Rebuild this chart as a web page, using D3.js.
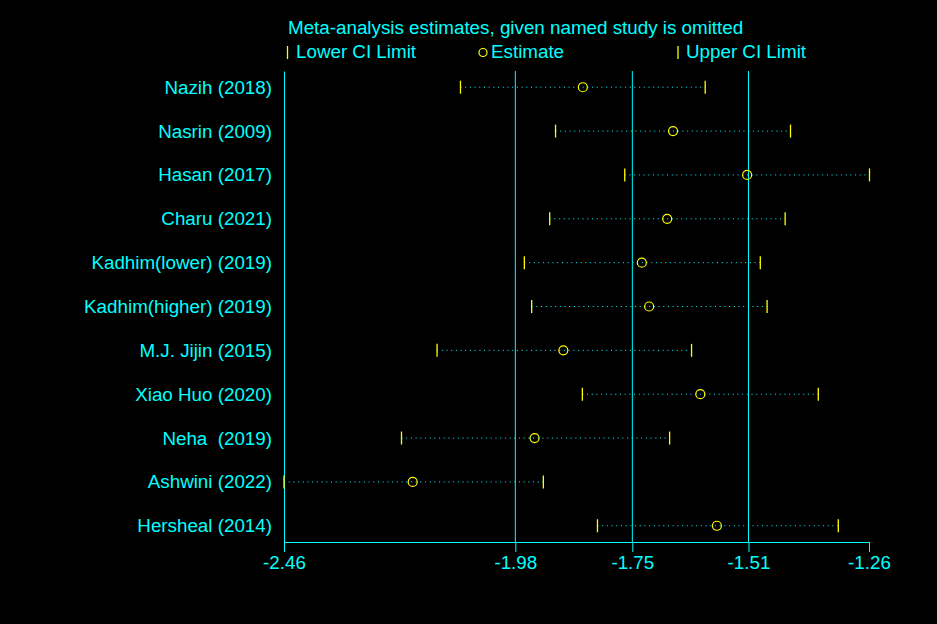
<!DOCTYPE html>
<html>
<head>
<meta charset="utf-8">
<script src="https://cdn.jsdelivr.net/npm/d3@7"></script>
<style>
  body { margin: 0; background: #000; }
  text { font-family: Arial, "Liberation Sans", sans-serif; fill: #00ffff; }
</style>
</head>
<body>
<script>
// study omitted, and the pooled estimate with its CI when that study is left out
var studies = ["Nazih (2018)", "Nasrin (2009)", "Hasan (2017)", "Charu (2021)", "Kadhim(lower) (2019)",
    "Kadhim(higher) (2019)", "M.J. Jijin (2015)", "Xiao Huo (2020)", "Neha  (2019)", "Ashwini (2022)", "Hersheal (2014)"]
var lower = [-2.098, -1.903, -1.761, -1.915, -1.967, -1.952, -2.146, -1.848, -2.219, -2.460, -1.817]
var estimate = [-1.847, -1.662, -1.510, -1.674, -1.726, -1.711, -1.887, -1.606, -1.946, -2.196, -1.572]
var upper = [-1.596, -1.421, -1.259, -1.432, -1.483, -1.469, -1.624, -1.364, -1.669, -1.928, -1.323]

// overall estimate and CI (vertical reference lines)
var overall = [-1.9855, -1.7455, -1.5072]

var tickValues = [-2.46, -1.9855, -1.7455, -1.5072, -1.26]
var tickLabels = ["-2.46", "-1.98", "-1.75", "-1.51", "-1.26"]

const width = 937
const height = 624
const cyan = "#00ffff"
const yellow = "#ffff00"
const font = "Arial, 'Liberation Sans', sans-serif"

var svg = d3.select("body").append("svg").attr("width", width).attr("height", height)
    .style("background", "#000")

var xScale = d3.scaleLinear().domain([-2.46, -1.26]).range([284, 869])
var yScale = d3.scalePoint().domain(studies).range([71, 542]).padding(0.37)

var rows = d3.range(studies.length)

// reference lines
svg.selectAll(".ref").data(overall).enter().append("line")
    .attr("x1", (d) => xScale(d)).attr("x2", (d) => xScale(d))
    .attr("y1", 71).attr("y2", 542)
    .attr("stroke", cyan).attr("stroke-width", 1)

// bottom axis
var xAxis = svg.append("g")
    .attr("transform", "translate(0, 542)")
    .call(d3.axisBottom(xScale).tickValues(tickValues).tickSize(10).tickSizeOuter(0)
        .tickPadding(4).tickFormat((d, i) => tickLabels[i]))
xAxis.selectAll("path, line").attr("stroke", cyan)
xAxis.selectAll("text").attr("fill", cyan).style("font-size", "18.8px").style("font-family", font)

// left axis with study names
var yAxis = svg.append("g")
    .attr("transform", "translate(284, 0)")
    .call(d3.axisLeft(yScale).tickSize(0).tickSizeOuter(0).tickPadding(12))
yAxis.select(".domain").attr("stroke", cyan)
yAxis.selectAll("text").attr("fill", cyan).style("font-size", "18.8px").style("font-family", font)
    .style("white-space", "pre").attr("xml:space", "preserve")

// dotted CI lines
svg.selectAll(".ci").data(rows).enter().append("line")
    .attr("x1", (i) => xScale(lower[i])).attr("x2", (i) => xScale(upper[i]))
    .attr("y1", (i) => yScale(studies[i])).attr("y2", (i) => yScale(studies[i]))
    .attr("stroke", cyan).attr("stroke-width", 1).attr("stroke-dasharray", "1,3.7")

// lower and upper limit ticks
svg.selectAll(".lo").data(rows).enter().append("line")
    .attr("x1", (i) => xScale(lower[i])).attr("x2", (i) => xScale(lower[i]))
    .attr("y1", (i) => yScale(studies[i]) - 6.5).attr("y2", (i) => yScale(studies[i]) + 6.5)
    .attr("stroke", yellow).attr("stroke-width", 1.3)
svg.selectAll(".hi").data(rows).enter().append("line")
    .attr("x1", (i) => xScale(upper[i])).attr("x2", (i) => xScale(upper[i]))
    .attr("y1", (i) => yScale(studies[i]) - 6.5).attr("y2", (i) => yScale(studies[i]) + 6.5)
    .attr("stroke", yellow).attr("stroke-width", 1.3)

// estimates
svg.selectAll(".est").data(rows).enter().append("circle")
    .attr("cx", (i) => xScale(estimate[i]))
    .attr("cy", (i) => yScale(studies[i]))
    .attr("r", 4.5)
    .attr("fill", "none").attr("stroke", yellow).attr("stroke-width", 1.2)

// title and legend
svg.append("text").attr("x", 288).attr("y", 34).style("font-size", "18.8px")
    .text("Meta-analysis estimates, given named study is omitted")

svg.append("line").attr("x1", 287.5).attr("x2", 287.5).attr("y1", 46).attr("y2", 59)
    .attr("stroke", yellow).attr("stroke-width", 1.3)
svg.append("text").attr("x", 296).attr("y", 58).style("font-size", "18.8px").text("Lower CI Limit")

svg.append("circle").attr("cx", 483).attr("cy", 52.5).attr("r", 4)
    .attr("fill", "none").attr("stroke", yellow).attr("stroke-width", 1.2)
svg.append("text").attr("x", 491).attr("y", 58).style("font-size", "18.8px").text("Estimate")

svg.append("line").attr("x1", 678).attr("x2", 678).attr("y1", 46).attr("y2", 59)
    .attr("stroke", yellow).attr("stroke-width", 1.3)
svg.append("text").attr("x", 686).attr("y", 58).style("font-size", "18.8px").text("Upper CI Limit")
</script>
</body>
</html>
